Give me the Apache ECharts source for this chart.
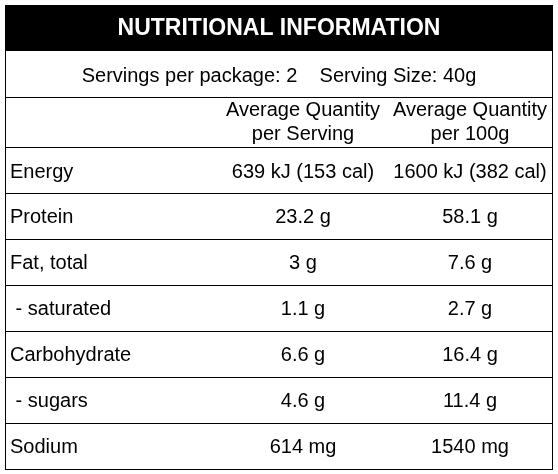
<!DOCTYPE html>
<html>
<head>
<meta charset="utf-8">
<title>Nutritional Information</title>
<script src="https://cdn.jsdelivr.net/npm/echarts@6/dist/echarts.min.js"></script>
<style>html,body{margin:0;padding:0;background:#fff}#main{width:558px;height:474px}</style>
</head>
<body>
<div id="main"></div>
<script>
var title = 'NUTRITIONAL INFORMATION';
var servingLine = 'Servings per package: 2    Serving Size: 40g';
var columnHeads = ['Average Quantity\nper Serving', 'Average Quantity\nper 100g'];
var nutrients = ['Energy', 'Protein', 'Fat, total', ' - saturated', 'Carbohydrate', ' - sugars', 'Sodium'];
var perServing = ['639 kJ (153 cal)', '23.2 g', '3 g', '1.1 g', '6.6 g', '4.6 g', '614 mg'];
var per100g = ['1600 kJ (382 cal)', '58.1 g', '7.6 g', '2.7 g', '16.4 g', '11.4 g', '1540 mg'];

var font = '"Liberation Sans", Arial, sans-serif';
var body = '20px ' + font;
var L = 5.5, R = 552.5, colX = [303, 470];
var rowTop = 193, rowH = 46;
var els = [];

els.push({type: 'rect', shape: {x: 5, y: 5, width: 548, height: 46}, style: {fill: '#000'}});
els.push({type: 'text', x: 279, y: 29, style: {text: title, fill: '#fff', font: 'bold 23px ' + font, align: 'center', verticalAlign: 'middle'}});
els.push({type: 'text', x: 279, y: 76, style: {text: servingLine, fill: '#000', font: body, align: 'center', verticalAlign: 'middle'}});
columnHeads.forEach(function (h, i) {
  els.push({type: 'text', x: colX[i], y: 122, style: {text: h, fill: '#000', font: body, align: 'center', verticalAlign: 'middle', lineHeight: 24}});
});
function row(i, cy) {
  els.push({type: 'text', x: 10, y: cy, style: {text: nutrients[i], fill: '#000', font: body, verticalAlign: 'middle'}});
  els.push({type: 'text', x: colX[0], y: cy, style: {text: perServing[i], fill: '#000', font: body, align: 'center', verticalAlign: 'middle'}});
  els.push({type: 'text', x: colX[1], y: cy, style: {text: per100g[i], fill: '#000', font: body, align: 'center', verticalAlign: 'middle'}});
}
row(0, 172);
for (var i = 1; i < nutrients.length; i++) row(i, rowTop + (i - 1) * rowH + rowH / 2 + 1);

var hLines = [97.5, 147.5];
for (var k = 0; k <= nutrients.length - 1; k++) hLines.push(Math.round(rowTop + k * rowH) + 0.5);
hLines.forEach(function (y) {
  els.push({type: 'line', shape: {x1: L, y1: y, x2: R, y2: y}, style: {stroke: '#000', lineWidth: 1}});
});
els.push({type: 'line', shape: {x1: L, y1: 5, x2: L, y2: 470}, style: {stroke: '#000', lineWidth: 1}});
els.push({type: 'line', shape: {x1: R, y1: 5, x2: R, y2: 470}, style: {stroke: '#000', lineWidth: 1}});

var chart = echarts.init(document.getElementById('main'));
chart.setOption({animation: false, graphic: {elements: els}});
</script>
</body>
</html>
